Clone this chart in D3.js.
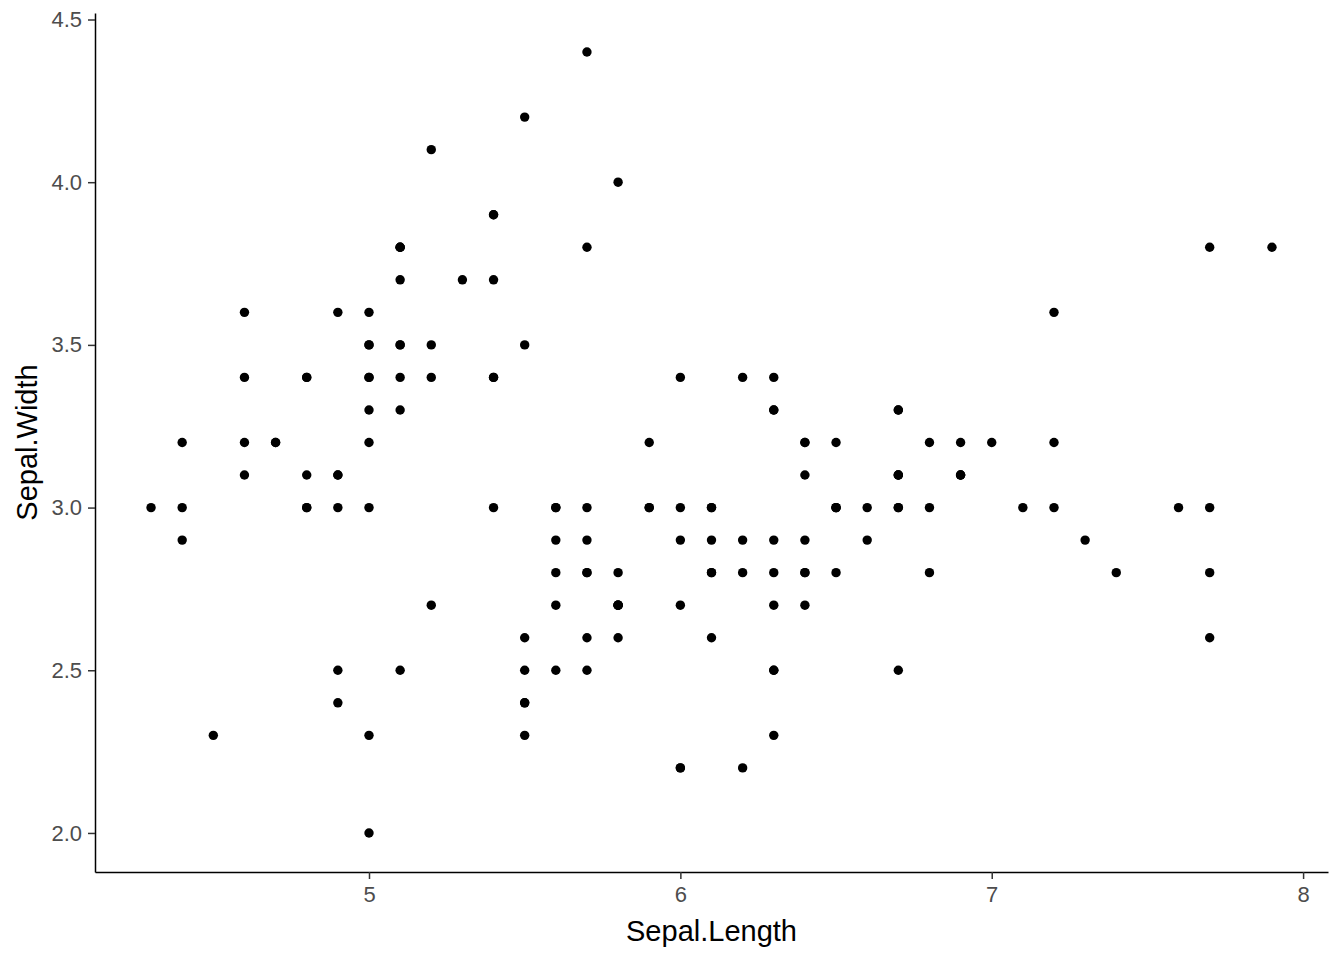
<!DOCTYPE html>
<html>
<head>
<meta charset="utf-8">
<script src="https://cdn.jsdelivr.net/npm/d3@7"></script>
<style>
  body { margin: 0; background: #fff; }
  text { font-family: "Liberation Sans", Arial, sans-serif; }
</style>
</head>
<body>
<svg id="chart"></svg>
<script>
// iris data, Sepal.Length vs Sepal.Width
const sepalLength = [
  5.1,4.9,4.7,4.6,5.0,5.4,4.6,5.0,4.4,4.9,5.4,4.8,4.8,4.3,5.8,5.7,5.4,5.1,5.7,5.1,
  5.4,5.1,4.6,5.1,4.8,5.0,5.0,5.2,5.2,4.7,4.8,5.4,5.2,5.5,4.9,5.0,5.5,4.9,4.4,5.1,
  5.0,4.5,4.4,5.0,5.1,4.8,5.1,4.6,5.3,5.0,
  7.0,6.4,6.9,5.5,6.5,5.7,6.3,4.9,6.6,5.2,5.0,5.9,6.0,6.1,5.6,6.7,5.6,5.8,6.2,5.6,
  5.9,6.1,6.3,6.1,6.4,6.6,6.8,6.7,6.0,5.7,5.5,5.5,5.8,6.0,5.4,6.0,6.7,6.3,5.6,5.5,
  5.5,6.1,5.8,5.0,5.6,5.7,5.7,6.2,5.1,5.7,
  6.3,5.8,7.1,6.3,6.5,7.6,4.9,7.3,6.7,7.2,6.5,6.4,6.8,5.7,5.8,6.4,6.5,7.7,7.7,6.0,
  6.9,5.6,7.7,6.3,6.7,7.2,6.2,6.1,6.4,7.2,7.4,7.9,6.4,6.3,6.1,7.7,6.3,6.4,6.0,6.9,
  6.7,6.9,5.8,6.8,6.7,6.7,6.3,6.5,6.2,5.9
];
const sepalWidth = [
  3.5,3.0,3.2,3.1,3.6,3.9,3.4,3.4,2.9,3.1,3.7,3.4,3.0,3.0,4.0,4.4,3.9,3.5,3.8,3.8,
  3.4,3.7,3.6,3.3,3.4,3.0,3.4,3.5,3.4,3.2,3.1,3.4,4.1,4.2,3.1,3.2,3.5,3.6,3.0,3.4,
  3.5,2.3,3.2,3.5,3.8,3.0,3.8,3.2,3.7,3.3,
  3.2,3.2,3.1,2.3,2.8,2.8,3.3,2.4,2.9,2.7,2.0,3.0,2.2,2.9,2.9,3.1,3.0,2.7,2.2,2.5,
  3.2,2.8,2.5,2.8,2.9,3.0,2.8,3.0,2.9,2.6,2.4,2.4,2.7,2.7,3.0,3.4,3.1,2.3,3.0,2.5,
  2.6,3.0,2.6,2.3,2.7,3.0,2.9,2.9,2.5,2.8,
  3.3,2.7,3.0,2.9,3.0,3.0,2.5,2.9,2.5,3.6,3.2,2.7,3.0,2.5,2.8,3.2,3.0,3.8,2.6,2.2,
  3.2,2.8,2.8,2.7,3.3,3.2,2.8,3.0,2.8,3.0,2.8,3.8,2.8,2.8,2.6,3.0,3.4,3.1,3.0,3.1,
  3.1,3.1,2.7,3.2,3.3,3.0,2.5,3.0,3.4,3.0
];
const xTicks = [5, 6, 7, 8];
const yTicks = [2.0, 2.5, 3.0, 3.5, 4.0, 4.5];

const points = sepalLength.map((d, i) => ({ x: d, y: sepalWidth[i] }));

const W = 1344, H = 960;
const margin = { top: 13, right: 16, bottom: 88, left: 95 };

const svg = d3.select("#chart")
    .attr("width", W)
    .attr("height", H);

// ggplot style 5% expansion of the data range
const xExt = d3.extent(sepalLength), yExt = d3.extent(sepalWidth);
const xPad = (xExt[1] - xExt[0]) * 0.05, yPad = (yExt[1] - yExt[0]) * 0.05;

const x = d3.scaleLinear()
    .domain([xExt[0] - xPad, xExt[1] + xPad])
    .range([margin.left, W - margin.right]);
const y = d3.scaleLinear()
    .domain([yExt[0] - yPad, yExt[1] + yPad])
    .range([H - margin.bottom, margin.top]);

// x axis
const xAxis = svg.append("g")
    .attr("transform", `translate(0,${H - margin.bottom})`)
    .call(d3.axisBottom(x).tickValues(xTicks).tickSizeInner(7).tickSizeOuter(0).tickPadding(7).tickFormat(d3.format("d")));

// y axis
const yAxis = svg.append("g")
    .attr("transform", `translate(${margin.left},0)`)
    .call(d3.axisLeft(y).tickValues(yTicks).tickSizeInner(7).tickSizeOuter(0).tickPadding(6).tickFormat(d3.format(".1f")));

[xAxis, yAxis].forEach(ax => {
    ax.attr("font-size", 22).attr("font-family", "'Liberation Sans', Arial, sans-serif");
    ax.select(".domain").attr("stroke", "#000").attr("stroke-width", 1.5);
    ax.selectAll(".tick line").attr("stroke", "#333").attr("stroke-width", 1.5);
    ax.selectAll(".tick text")
        .attr("fill", "#4d4d4d")
        .attr("font-size", 22);
});

// points
svg.append("g")
    .selectAll("circle")
    .data(points)
    .join("circle")
    .attr("cx", d => x(d.x))
    .attr("cy", d => y(d.y))
    .attr("r", 4.7)
    .attr("fill", "#000");

// axis titles
svg.append("text")
    .attr("x", (margin.left + W - margin.right) / 2)
    .attr("y", 941)
    .attr("text-anchor", "middle")
    .attr("font-size", 29)
    .attr("fill", "#000")
    .text("Sepal.Length");

svg.append("text")
    .attr("transform", `translate(37,${(margin.top + H - margin.bottom) / 2}) rotate(-90)`)
    .attr("text-anchor", "middle")
    .attr("font-size", 29)
    .attr("fill", "#000")
    .text("Sepal.Width");
</script>
</body>
</html>
